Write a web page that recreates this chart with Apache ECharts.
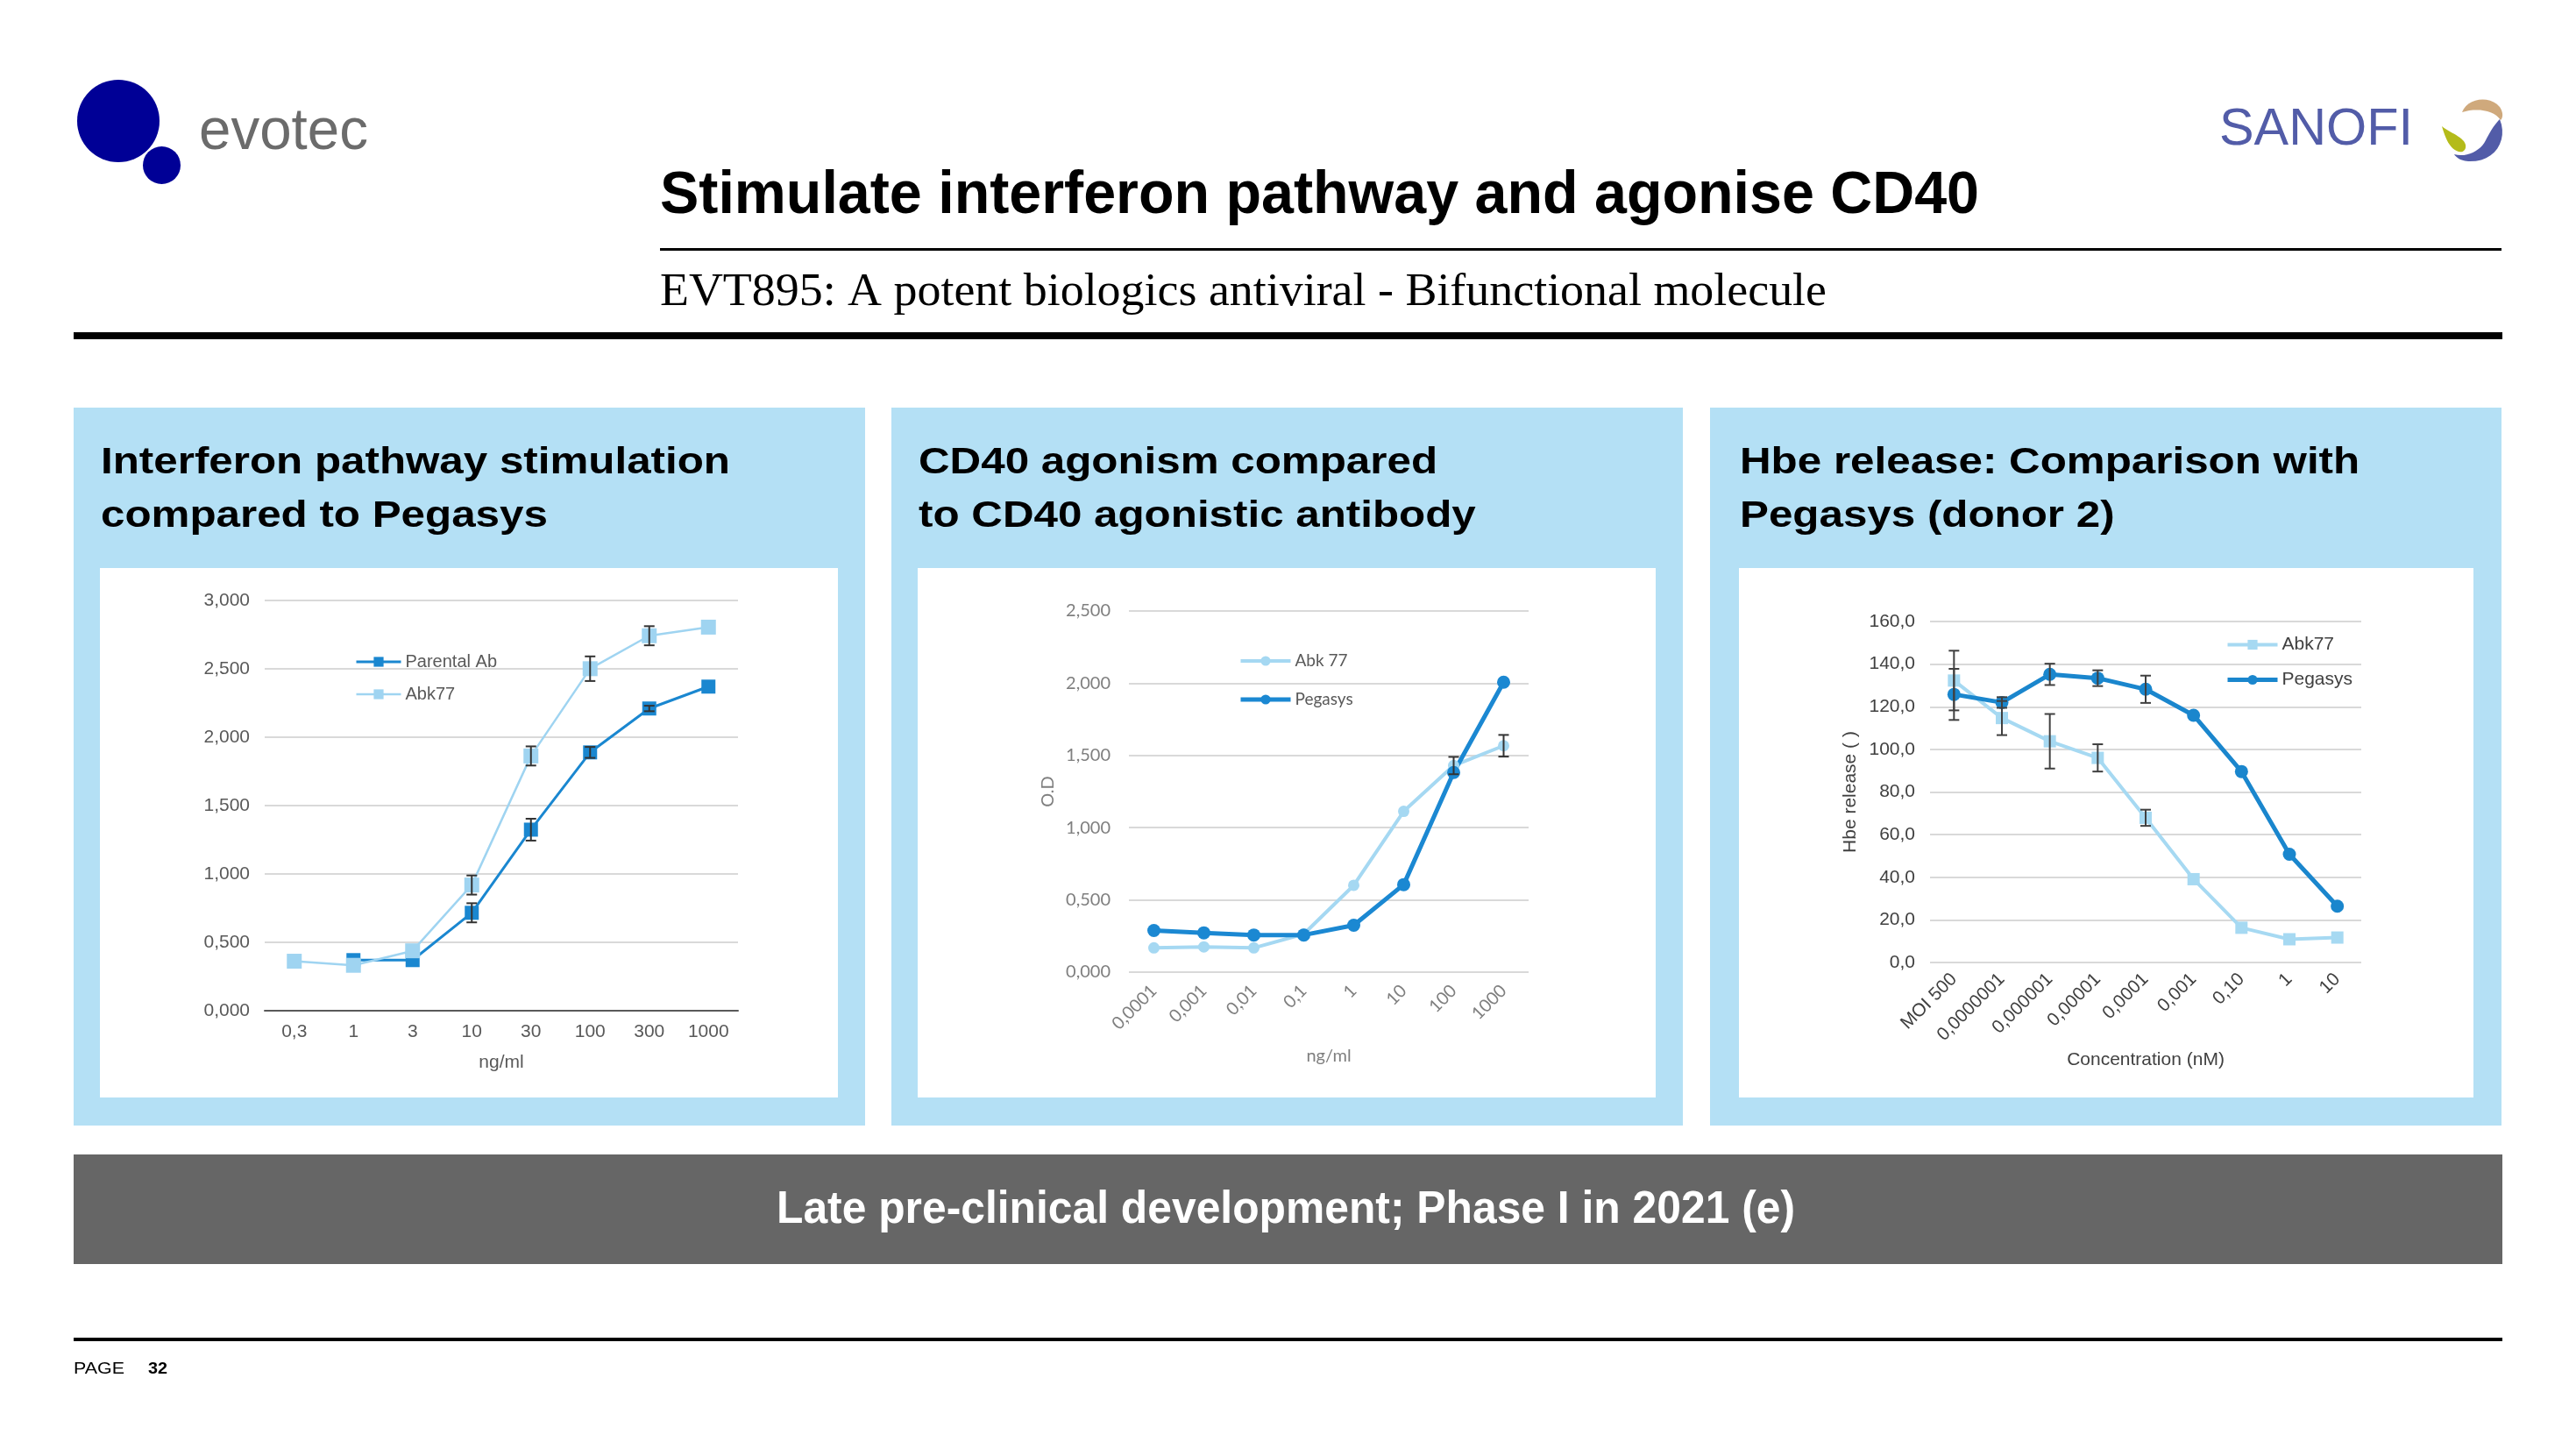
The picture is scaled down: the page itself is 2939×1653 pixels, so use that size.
<!DOCTYPE html>
<html><head><meta charset="utf-8">
<script src="https://cdn.jsdelivr.net/npm/echarts@6/dist/echarts.min.js"></script>
<style>
html,body{margin:0;padding:0;background:#fff;width:2939px;height:1653px;overflow:hidden}
#bg{position:absolute;left:0;top:0;width:2939px;height:1653px}
.ch{position:absolute;top:648px;height:604px}
#c1{left:114px;width:842px}
#c2{left:1047px;width:842px}
#c3{left:1984px;width:838px}
</style></head><body>
<div id="bg"></div><div class="ch" id="c1"></div><div class="ch" id="c2"></div><div class="ch" id="c3"></div>
<script>
// ---------- data ----------
var c1Categories = ['0,3','1','3','10','30','100','300','1000'];
var c1Parental    = [null,0.370,0.370,0.716,1.324,1.889,2.210,2.370];
var c1ParentalErr = [0,0,0,0.07,0.08,0.04,0.02,0];
var c1Abk77       = [0.362,0.332,0.438,0.919,1.863,2.501,2.742,2.805];
var c1Abk77Err    = [0,0,0,0.07,0.07,0.09,0.07,0];

var c2Categories = ['0,0001','0,001','0,01','0,1','1','10','100','1000'];
var c2Abk77      = [0.168,0.175,0.168,0.264,0.601,1.113,1.430,1.567];
var c2Abk77Err   = [0,0,0,0,0,0,0.06,0.075];
var c2Pegasys    = [0.288,0.272,0.257,0.257,0.325,0.606,1.382,2.007];

var c3Categories = ['MOI 500','0,0000001','0,000001','0,00001','0,0001','0,001','0,10','1','10'];
var c3Abk77      = [132.3,114.7,103.8,96.0,67.9,39.1,16.3,10.9,11.7];
var c3Abk77Err   = [14,8,12.8,6.4,3.8,0,0,0,0];
var c3Pegasys    = [125.8,122.0,135.2,133.4,128.2,116.0,89.6,50.8,26.4];
var c3PegasysErr = [12,2.5,5,3.7,6.4,0,0,0,0];

var titleText = 'Stimulate interferon pathway and agonise CD40';
var subtitleText = 'EVT895: A potent biologics antiviral - Bifunctional molecule';
var panelHeaders = [
  ['Interferon pathway stimulation','compared to Pegasys'],
  ['CD40 agonism compared','to CD40 agonistic antibody'],
  ['Hbe release: Comparison with','Pegasys (donor 2)']
];
var bannerText = 'Late pre-clinical development; Phase I in 2021 (e)';

// ---------- helpers ----------
var mctx = document.createElement('canvas').getContext('2d');
function fit(text, size, weight, family, target){
  mctx.font = weight + ' ' + size + 'px "' + family + '"';
  return target / mctx.measureText(text).width;
}
function txt(x, y, text, size, weight, family, fill, scale, align){
  return {type:'text', x:x, y:y, scaleX:scale, z:10,
    style:{text:text, fontSize:size, fontWeight:weight, fontFamily:family, fill:fill,
           align:align||'left', verticalAlign:'middle'}};
}
function comma(d){ return function(v){ return v.toFixed(d).replace('.', ','); }; }
function blob(start, curves){
  var pts = [start.slice()], p = start;
  curves.forEach(function(c){
    for (var k=1;k<=12;k++){
      var t=k/12, u=1-t;
      pts.push([u*u*u*p[0]+3*u*u*t*c[0]+3*u*t*t*c[2]+t*t*t*c[4],
                u*u*u*p[1]+3*u*u*t*c[1]+3*u*t*t*c[3]+t*t*t*c[5]]);
    }
    p = [c[4], c[5]];
  });
  return pts;
}
function errData(vals, errs){
  var out = [];
  vals.forEach(function(v,i){ if(v!=null && errs[i]) out.push([i, v-errs[i], v+errs[i]]); });
  return out;
}
function errSeries(data, color){
  return {type:'custom', z:5, silent:true, data:data, encode:{x:0,y:[1,2]},
    renderItem:function(params, api){
      var lo = api.coord([api.value(0), api.value(1)]);
      var hi = api.coord([api.value(0), api.value(2)]);
      var w = 6, st = {stroke:color, lineWidth:2};
      return {type:'group', children:[
        {type:'line', shape:{x1:hi[0],y1:hi[1],x2:lo[0],y2:lo[1]}, style:st},
        {type:'line', shape:{x1:hi[0]-w,y1:hi[1],x2:hi[0]+w,y2:hi[1]}, style:st},
        {type:'line', shape:{x1:lo[0]-w,y1:lo[1],x2:lo[0]+w,y2:lo[1]}, style:st}
      ]};
    }};
}

// ---------- background slide ----------
var SANS = 'Liberation Sans', SERIF = 'Liberation Serif';
var hdrScale = fit(panelHeaders[0][0], 43, 'bold', SANS, 718);
var panelX = [84, 1017, 1951], boxX = [114, 1047, 1984], boxW = [842, 842, 838];
var g = [];
g.push({type:'circle', shape:{cx:135, cy:138, r:47}, style:{fill:'#000096'}});
g.push({type:'circle', shape:{cx:184.5, cy:188.5, r:21.5}, style:{fill:'#000096'}});
g.push(txt(227, 152, 'evotec', 66, 'normal', SANS, '#6b6b6b', fit('evotec',66,'normal',SANS,193)));
g.push(txt(2532, 148, 'SANOFI', 60, 'normal', SANS, '#525ca8', fit('SANOFI',60,'normal',SANS,221)));
g.push({type:'polygon', shape:{points:blob([2809,128],[[2815,112,2840,108,2852,122],[2856,128,2856,134,2853,137],[2845,125,2825,123,2809,128]])}, style:{fill:'#cfa97c'}});
g.push({type:'polygon', shape:{points:blob([2786,144],[[2790,158,2795,170,2805,173],[2813,175,2816,166,2810,160],[2803,153,2793,150,2786,144]])}, style:{fill:'#b4bb1a'}});
g.push({type:'polygon', shape:{points:blob([2852,136],[[2862,160,2846,185,2818,184],[2810,184,2803,181,2800,176],[2815,180,2830,172,2836,160],[2841,150,2846,142,2852,136]])}, style:{fill:'#525ca8'}});
g.push(txt(753, 224, titleText, 68, 'bold', SANS, '#000', fit(titleText,68,'bold',SANS,1505)));
g.push({type:'rect', shape:{x:753, y:283, width:2101, height:3}, style:{fill:'#000'}});
g.push(txt(753, 334, subtitleText, 53, 'normal', SERIF, '#000', fit(subtitleText,53,'normal',SERIF,1331)));
g.push({type:'rect', shape:{x:84, y:379, width:2771, height:8}, style:{fill:'#000'}});
for (var i=0;i<3;i++){
  g.push({type:'rect', shape:{x:panelX[i], y:465, width:903, height:819}, style:{fill:'#b4e0f5'}});
  g.push({type:'rect', shape:{x:boxX[i], y:648, width:boxW[i], height:604}, style:{fill:'#ffffff'}});
  g.push(txt(boxX[i]+1, 528, panelHeaders[i][0], 43, 'bold', SANS, '#000', hdrScale));
  g.push(txt(boxX[i]+1, 589, panelHeaders[i][1], 43, 'bold', SANS, '#000', hdrScale));
}
g.push({type:'rect', shape:{x:84, y:1317, width:2771, height:125}, style:{fill:'#666666'}});
g.push(txt(1467, 1381, bannerText, 52, 'bold', SANS, '#ffffff', fit(bannerText,52,'bold',SANS,1162), 'center'));
g.push({type:'rect', shape:{x:84, y:1526, width:2771, height:4}, style:{fill:'#000'}});
g.push(txt(84, 1562, 'PAGE', 19, 'normal', SANS, '#000', fit('PAGE',19,'normal',SANS,58)));
g.push(txt(169, 1562, '32', 19, 'bold', SANS, '#000', fit('32',19,'bold',SANS,22)));

echarts.init(document.getElementById('bg')).setOption({animation:false, graphic:{elements:g}});

// ---------- chart 1 ----------
var F1 = {fontFamily:SANS, fontSize:21, color:'#595959'};
echarts.init(document.getElementById('c1')).setOption({
  animation:false,
  grid:{left:188, top:37, width:540, height:468},
  legend:{orient:'vertical', left:286, top:92, itemWidth:51, itemHeight:14, itemGap:17,
    textStyle:{fontFamily:SANS, fontSize:20, color:'#595959', lineHeight:20},
    data:[{name:'Parental Ab', lineStyle:{width:3}}, {name:'Abk77', lineStyle:{width:2.5}}]},
  xAxis:{type:'category', data:c1Categories,
    axisLine:{lineStyle:{color:'#595959', width:2}}, axisTick:{show:false},
    axisLabel:Object.assign({margin:14}, F1),
    name:'ng/ml', nameLocation:'middle', nameGap:49, nameTextStyle:F1},
  yAxis:{type:'value', min:0, max:3, interval:0.5,
    axisLine:{show:false}, axisTick:{show:false},
    axisLabel:Object.assign({margin:17, formatter:comma(3)}, F1),
    splitLine:{lineStyle:{color:'#d9d9d9', width:2}}},
  series:[
    {name:'Parental Ab', type:'line', data:c1Parental, symbol:'rect', symbolSize:16, color:'#1a87d0',
      lineStyle:{width:3}, itemStyle:{color:'#1a87d0'}},
    {name:'Abk77', type:'line', data:c1Abk77, symbol:'rect', symbolSize:17, color:'#9fd4f1',
      lineStyle:{width:2.5}, itemStyle:{color:'#9fd4f1'}},
    errSeries(errData(c1Parental, c1ParentalErr), '#333333'),
    errSeries(errData(c1Abk77, c1Abk77Err), '#333333')
  ]
});

// ---------- chart 2 ----------
var F2 = {fontFamily:'Lato', fontSize:20, color:'#7f7f7f'};
echarts.init(document.getElementById('c2')).setOption({
  animation:false,
  grid:{left:241, top:49, width:456, height:412},
  legend:{orient:'vertical', left:361, top:91, itemWidth:57, itemHeight:14, itemGap:24,
    textStyle:{fontFamily:'Lato', fontSize:19, color:'#595959', lineHeight:20},
    data:[{name:'Abk 77', lineStyle:{width:4}}, {name:'Pegasys', lineStyle:{width:5}}]},
  xAxis:{type:'category', data:c2Categories,
    axisLine:{show:false}, axisTick:{show:false},
    axisLabel:Object.assign({margin:18, rotate:45}, F2),
    name:'ng/ml', nameLocation:'middle', nameGap:86, nameTextStyle:F2},
  yAxis:{type:'value', min:0, max:2.5, interval:0.5,
    axisLine:{show:false}, axisTick:{show:false},
    axisLabel:Object.assign({margin:21, formatter:comma(3)}, F2),
    splitLine:{lineStyle:{color:'#d9d9d9', width:2}},
    name:'O.D', nameLocation:'middle', nameGap:79, nameRotate:90, nameTextStyle:F2},
  series:[
    {name:'Abk 77', type:'line', data:c2Abk77, symbol:'circle', symbolSize:13, color:'#a5d8f2',
      lineStyle:{width:4}, itemStyle:{color:'#a5d8f2'}},
    {name:'Pegasys', type:'line', data:c2Pegasys, symbol:'circle', symbolSize:15, color:'#1b88d2',
      lineStyle:{width:5}, itemStyle:{color:'#1b88d2'}},
    errSeries(errData(c2Abk77, c2Abk77Err), '#333333')
  ]
});

// ---------- chart 3 ----------
var F3 = {fontFamily:SANS, fontSize:21, color:'#404040'};
echarts.init(document.getElementById('c3')).setOption({
  animation:false,
  grid:{left:218, top:61, width:492, height:389},
  legend:{orient:'vertical', left:550, top:72, itemWidth:57, itemHeight:14, itemGap:19,
    textStyle:{fontFamily:SANS, fontSize:21, color:'#404040', lineHeight:20},
    data:[{name:'Abk77', lineStyle:{width:4}}, {name:'Pegasys', lineStyle:{width:5}}]},
  xAxis:{type:'category', data:c3Categories,
    axisLine:{show:false}, axisTick:{show:false},
    axisLabel:Object.assign({margin:16, rotate:45, interval:0}, F3),
    name:'Concentration (nM)', nameLocation:'middle', nameGap:93, nameTextStyle:F3},
  yAxis:{type:'value', min:0, max:160, interval:20,
    axisLine:{show:false}, axisTick:{show:false},
    axisLabel:Object.assign({margin:17, formatter:comma(1)}, F3),
    splitLine:{lineStyle:{color:'#d9d9d9', width:2}},
    name:'Hbe release ( )', nameLocation:'middle', nameGap:76, nameRotate:90, nameTextStyle:F3},
  series:[
    {name:'Abk77', type:'line', data:c3Abk77, symbol:'rect', symbolSize:14, color:'#a6d9f2',
      lineStyle:{width:4}, itemStyle:{color:'#a6d9f2'}},
    {name:'Pegasys', type:'line', data:c3Pegasys, symbol:'circle', symbolSize:15, color:'#1a86cd',
      lineStyle:{width:5}, itemStyle:{color:'#1a86cd'}},
    errSeries(errData(c3Abk77, c3Abk77Err), '#404040'),
    errSeries(errData(c3Pegasys, c3PegasysErr), '#404040')
  ]
});
</script>
</body></html>
